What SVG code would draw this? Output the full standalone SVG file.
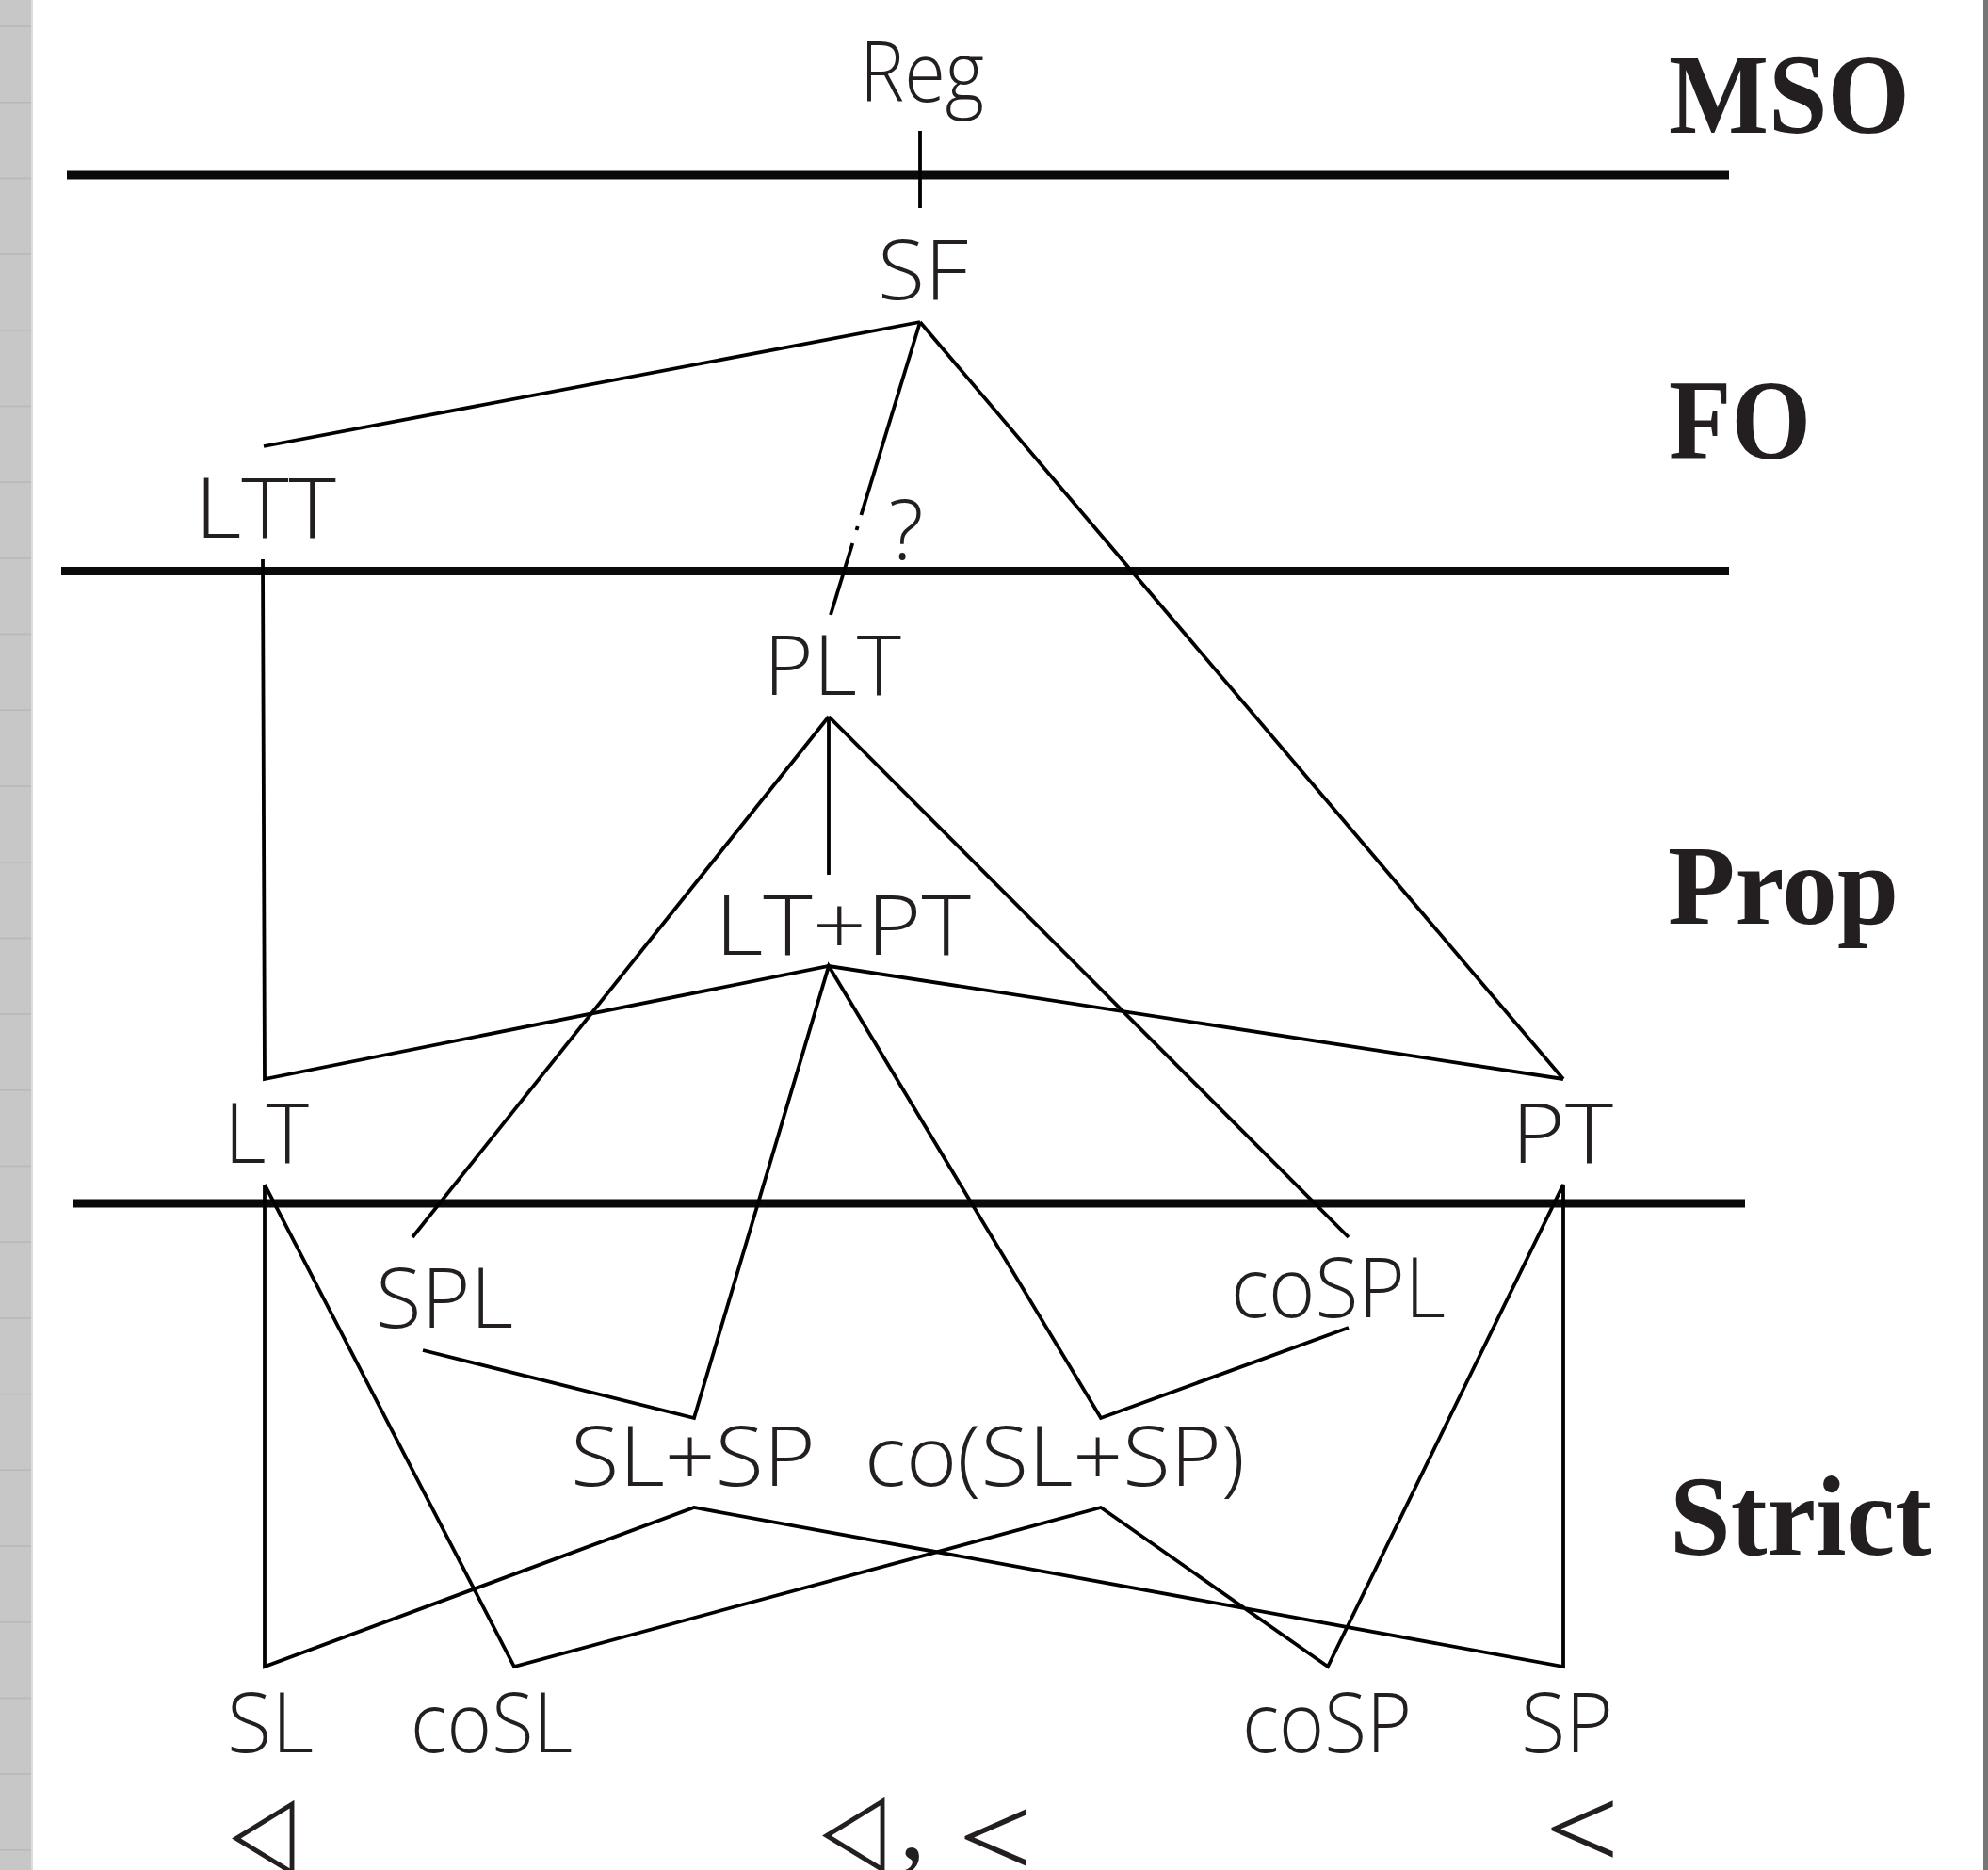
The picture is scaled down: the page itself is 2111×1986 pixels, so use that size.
<svg xmlns="http://www.w3.org/2000/svg" width="2111" height="1986" viewBox="0 0 2111 1986">
<style>
.lbl{font-family:"Open Sans","DejaVu Sans",sans-serif;font-weight:300;font-size:88px;fill:#231f20;text-anchor:middle}
.lvl{font-family:"Liberation Serif","DejaVu Serif",serif;font-weight:bold;font-size:121px;fill:#231f20}
.tri{font-family:"DejaVu Sans",sans-serif;font-size:87px;fill:#231f20}
.lt{font-family:"Liberation Serif","DejaVu Serif",serif;font-size:124px;fill:#231f20}
.cm{font-family:"Liberation Serif","DejaVu Serif",serif;font-size:112px;fill:#231f20}
.sep{stroke:#0a0a08;stroke-width:9;fill:none}
.con{stroke:#000;stroke-width:3.8;fill:none;stroke-linejoin:miter}
.grid{stroke:#bdb6b6;stroke-width:1.5}
</style>
<rect width="2111" height="1986" fill="#fff"/>
<g id="margin">
<rect x="0" y="0" width="33" height="1986" fill="#c6c7c6"/>
<rect x="33" y="0" width="2" height="1986" fill="#dcdcdc"/>
<g class="grid">
<line x1="0" y1="28" x2="33" y2="28"/><line x1="0" y1="108.7" x2="33" y2="108.7"/><line x1="0" y1="189.4" x2="33" y2="189.4"/><line x1="0" y1="270.1" x2="33" y2="270.1"/><line x1="0" y1="350.8" x2="33" y2="350.8"/><line x1="0" y1="431.5" x2="33" y2="431.5"/><line x1="0" y1="512.2" x2="33" y2="512.2"/><line x1="0" y1="592.9" x2="33" y2="592.9"/><line x1="0" y1="673.6" x2="33" y2="673.6"/><line x1="0" y1="754.3" x2="33" y2="754.3"/><line x1="0" y1="835" x2="33" y2="835"/><line x1="0" y1="915.7" x2="33" y2="915.7"/><line x1="0" y1="996.4" x2="33" y2="996.4"/><line x1="0" y1="1077.1" x2="33" y2="1077.1"/><line x1="0" y1="1157.8" x2="33" y2="1157.8"/><line x1="0" y1="1238.5" x2="33" y2="1238.5"/><line x1="0" y1="1319.2" x2="33" y2="1319.2"/><line x1="0" y1="1399.9" x2="33" y2="1399.9"/><line x1="0" y1="1480.6" x2="33" y2="1480.6"/><line x1="0" y1="1561.3" x2="33" y2="1561.3"/><line x1="0" y1="1642" x2="33" y2="1642"/><line x1="0" y1="1722.7" x2="33" y2="1722.7"/><line x1="0" y1="1803.4" x2="33" y2="1803.4"/><line x1="0" y1="1884.1" x2="33" y2="1884.1"/><line x1="0" y1="1964.8" x2="33" y2="1964.8"/>
</g>
<rect x="2106" y="0" width="5" height="1986" fill="#767676"/>
</g>
<g id="levels">
<line class="sep" x1="71" y1="186" x2="1836" y2="186"/>
<line class="sep" x1="65" y1="606.5" x2="1836" y2="606.5"/>
<line class="sep" x1="77" y1="1278" x2="1853" y2="1278"/>
<text class="lvl" x="1772" y="141" textLength="256" lengthAdjust="spacingAndGlyphs">MSO</text>
<text class="lvl" x="1772" y="487" textLength="151" lengthAdjust="spacingAndGlyphs">FO</text>
<text class="lvl" x="1771" y="981" textLength="245" lengthAdjust="spacingAndGlyphs">Prop</text>
<text class="lvl" x="1773" y="1651" textLength="278" lengthAdjust="spacingAndGlyphs">Strict</text>
</g>
<g id="connectors">
<line class="con" x1="977" y1="139" x2="977" y2="221"/>
<line class="con" x1="977" y1="342" x2="280" y2="474"/>
<line class="con" x1="977" y1="342" x2="914.4" y2="547"/>
<line class="con" x1="910.7" y1="559" x2="909.5" y2="563"/>
<line class="con" x1="905.3" y1="577" x2="882" y2="653"/>
<line class="con" x1="977" y1="342" x2="1660" y2="1146"/>
<polyline class="con" points="279,594 281,1146 880,1026 1660,1146"/>
<line class="con" x1="880" y1="761" x2="880" y2="929"/>
<line class="con" x1="438" y1="1314" x2="880" y2="761"/>
<line class="con" x1="880" y1="761" x2="1432" y2="1314"/>
<polyline class="con" points="449,1434 737,1506 880,1026 1169,1506 1432,1410"/>
<polyline class="con" points="281,1258 281,1770 737,1601 1660,1770 1660,1258 1410,1770 1169,1601 546,1770 281,1258"/>
</g>
<g id="n-reg"><text class="lbl" x="979" y="108" textLength="132" lengthAdjust="spacingAndGlyphs">Reg</text></g>
<g id="n-sf"><text class="lbl" x="980" y="318" textLength="96" lengthAdjust="spacingAndGlyphs">SF</text></g>
<g id="n-ltt"><text class="lbl" x="282" y="571" textLength="150" lengthAdjust="spacingAndGlyphs">LTT</text></g>
<g id="n-q"><text class="lbl" x="962" y="594">?</text></g>
<g id="n-plt"><text class="lbl" x="884" y="738" textLength="146" lengthAdjust="spacingAndGlyphs">PLT</text></g>
<g id="n-ltpt"><text class="lbl" x="895" y="1014" textLength="272" lengthAdjust="spacingAndGlyphs">LT+PT</text></g>
<g id="n-lt"><text class="lbl" x="283" y="1235" textLength="90" lengthAdjust="spacingAndGlyphs">LT</text></g>
<g id="n-pt"><text class="lbl" x="1659" y="1235" textLength="108" lengthAdjust="spacingAndGlyphs">PT</text></g>
<g id="n-spl"><text class="lbl" x="472" y="1410" textLength="146" lengthAdjust="spacingAndGlyphs">SPL</text></g>
<g id="n-cospl"><text class="lbl" x="1421" y="1399" textLength="228" lengthAdjust="spacingAndGlyphs">coSPL</text></g>
<g id="n-slsp"><text class="lbl" x="736" y="1578" textLength="260" lengthAdjust="spacingAndGlyphs">SL+SP</text></g>
<g id="n-coslsp"><text class="lbl" x="1120" y="1578" textLength="404" lengthAdjust="spacingAndGlyphs">co(SL+SP)</text></g>
<g id="n-sl"><text class="lbl" x="287" y="1861" textLength="92" lengthAdjust="spacingAndGlyphs">SL</text></g>
<g id="n-cosl"><text class="lbl" x="522" y="1861" textLength="172" lengthAdjust="spacingAndGlyphs">coSL</text></g>
<g id="n-cosp"><text class="lbl" x="1409" y="1861" textLength="180" lengthAdjust="spacingAndGlyphs">coSP</text></g>
<g id="n-sp"><text class="lbl" x="1664" y="1861" textLength="98" lengthAdjust="spacingAndGlyphs">SP</text></g>
<g id="orders">
<text class="tri" transform="translate(246,1980) scale(1,1.22)">◁</text>
<g id="mid-order">
<text class="tri" transform="translate(873,1977) scale(1,1.22)">◁</text>
<text class="cm" x="955" y="1974">,</text>
<text class="lt" transform="translate(1017.5,1993) scale(1.13,1)">&lt;</text>
</g>
<text class="lt" transform="translate(1640.5,1984) scale(1.13,1)">&lt;</text>
</g>
</svg>
